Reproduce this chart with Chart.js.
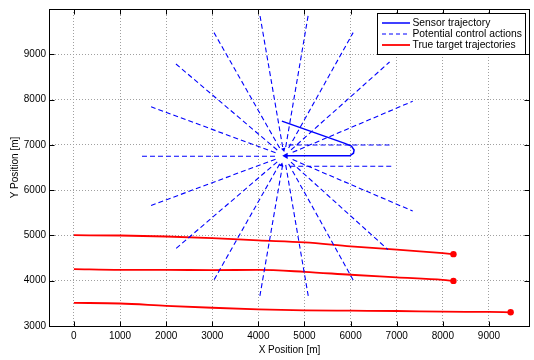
<!DOCTYPE html>
<html>
<head>
<meta charset="utf-8">
<script src="https://cdn.jsdelivr.net/npm/chart.js@4.4.1/dist/chart.umd.min.js"></script>
<style>
  html, body { margin: 0; padding: 0; background: #fff; }
  canvas { display: block; }
</style>
</head>
<body>
<canvas id="c" width="534" height="360" style="width:534px;height:360px"></canvas>
<script>
// ---- data ----
const xTicks = [0, 1000, 2000, 3000, 4000, 5000, 6000, 7000, 8000, 9000];
const yTicks = [3000, 4000, 5000, 6000, 7000, 8000, 9000];

const sensorX = [4510, 5875, 6018, 6076, 6062, 5983, 4596];
const sensorY = [7524, 7032, 6974, 6887, 6816, 6758, 6758];

const ctrlInnerX = [4527, 4593, 4462, 4656, 4409, 4708, 4373, 4743, 4360, 4373, 4743, 4409, 4707, 4463, 4656, 4526, 4593, 4654, 4691];
const ctrlInnerY = [6952, 6952, 6930, 6930, 6886, 6889, 6825, 6835, 6750, 6684, 6675, 6624, 6620, 6580, 6579, 6558, 6558, 6996, 6528];
const ctrlOuterX = [4029, 5085, 3038, 6055, 2213, 6845, 1674, 7347, 1465, 1674, 7347, 2213, 6809, 3038, 6055, 4029, 5085, 6917, 6917];
const ctrlOuterY = [9890, 9890, 9478, 9478, 8786, 8829, 7840, 7963, 6750, 5662, 5539, 4710, 4688, 4017, 4017, 3641, 3641, 6996, 6528];

const arrowX = [4546, 4503];
const arrowY = [6900, 6556];
const arrowRot = [45, 135];

const target1X = [0, 1000, 2000, 3000, 4000, 5000, 6000, 7000, 8000, 8230];
const target1Y = [5005, 4998, 4976, 4940, 4890, 4846, 4760, 4688, 4608, 4587];
const target2X = [0, 1000, 2000, 3000, 4000, 5000, 6000, 7000, 8000, 8230];
const target2Y = [4255, 4240, 4240, 4234, 4240, 4197, 4132, 4074, 4017, 3996];
const target3X = [0, 1000, 2000, 3000, 4000, 5000, 6000, 7000, 8000, 9000, 9470];
const target3Y = [3511, 3497, 3446, 3403, 3368, 3346, 3338, 3331, 3316, 3310, 3303];

const legendLabels = ['Sensor trajectory', 'Potential control actions', 'True target trajectories'];

// ---- styles ----
const BLUE = '#0000ff';
const RED = '#ff0000';
const FONT = 'Liberation Sans, Arial, Helvetica, sans-serif';

const zip = (xs, ys) => xs.map((x, i) => ({ x: x, y: ys[i] }));

const ctrlData = [];
for (let i = 0; i < ctrlOuterX.length; i++) {
  ctrlData.push({ x: ctrlInnerX[i], y: ctrlInnerY[i] });
  ctrlData.push({ x: ctrlOuterX[i], y: ctrlOuterY[i] });
  ctrlData.push({ x: ctrlOuterX[i], y: null });
}

const lastOnly = (n, r) => Array.from({ length: n }, (_, i) => (i === n - 1 ? r : 0));

const targetDs = (xs, ys, label) => ({
  label: label,
  data: zip(xs, ys),
  showLine: true,
  borderColor: RED,
  backgroundColor: RED,
  borderWidth: 1.8,
  cubicInterpolationMode: 'monotone',
  pointRadius: lastOnly(xs.length, 3.2),
  pointBorderWidth: 0,
  pointHoverRadius: 0
});

const datasets = [
  {
    label: legendLabels[1],
    data: ctrlData,
    showLine: true,
    spanGaps: false,
    borderColor: BLUE,
    borderWidth: 1.1,
    borderDash: [5, 3],
    pointRadius: 0,
    pointHoverRadius: 0
  },
  {
    label: 'arrows',
    data: zip(arrowX, arrowY),
    showLine: false,
    pointStyle: 'triangle',
    pointRotation: arrowRot,
    pointRadius: 2.6,
    backgroundColor: BLUE,
    borderColor: BLUE,
    borderWidth: 0
  },
  {
    label: legendLabels[0],
    data: zip(sensorX, sensorY),
    showLine: true,
    borderColor: BLUE,
    backgroundColor: BLUE,
    borderWidth: 1.5,
    tension: 0,
    pointStyle: 'triangle',
    pointRotation: -90,
    pointRadius: lastOnly(sensorX.length, 3.6),
    pointBorderWidth: 0,
    pointHoverRadius: 0
  },
  targetDs(target1X, target1Y, legendLabels[2]),
  targetDs(target2X, target2Y, 'target 2'),
  targetDs(target3X, target3Y, 'target 3')
];

// ---- frame with inward ticks on all sides ----
const framePlugin = {
  id: 'frame',
  afterDatasetsDraw(chart) {
    const { ctx, chartArea: a, scales } = chart;
    const L = Math.round(a.left) + 0.5, R = Math.round(a.right) - 0.5;
    const T = Math.round(a.top) + 0.5, B = Math.round(a.bottom) + 0.5;
    ctx.save();
    ctx.strokeStyle = '#000';
    ctx.lineWidth = 1;
    ctx.beginPath();
    xTicks.forEach(v => {
      const p = Math.round(scales.x.getPixelForValue(v)) + 0.5;
      ctx.moveTo(p, B); ctx.lineTo(p, B - 5);
      ctx.moveTo(p, T); ctx.lineTo(p, T + 5);
    });
    yTicks.forEach(v => {
      const p = Math.round(scales.y.getPixelForValue(v)) + 0.5;
      ctx.moveTo(L, p); ctx.lineTo(L + 5, p);
      ctx.moveTo(R, p); ctx.lineTo(R - 5, p);
    });
    ctx.stroke();
    ctx.strokeRect(L, T, R - L, B - T);
    ctx.restore();
  }
};

// ---- boxed legend inside the plot ----
const legendPlugin = {
  id: 'boxLegend',
  afterDraw(chart) {
    const { ctx } = chart;
    const x0 = 377.5, y0 = 13.5, w = 148, h = 41;
    ctx.save();
    ctx.fillStyle = '#fff';
    ctx.fillRect(x0, y0, w, h);
    ctx.strokeStyle = '#000';
    ctx.lineWidth = 1;
    ctx.strokeRect(x0, y0, w, h);
    const styles = [
      { c: BLUE, d: [], lw: 1.5 },
      { c: BLUE, d: [4, 3], lw: 1.1 },
      { c: RED, d: [], lw: 1.8 }
    ];
    ctx.font = '10.3px ' + FONT;
    ctx.textBaseline = 'middle';
    ctx.textAlign = 'left';
    legendLabels.forEach((t, i) => {
      const yy = 23 + i * 11;
      ctx.beginPath();
      ctx.setLineDash(styles[i].d);
      ctx.strokeStyle = styles[i].c;
      ctx.lineWidth = styles[i].lw;
      ctx.moveTo(382, yy);
      ctx.lineTo(410, yy);
      ctx.stroke();
      ctx.setLineDash([]);
      ctx.fillStyle = '#000';
      ctx.fillText(t, 412.5, yy + 0.5);
    });
    ctx.restore();
  }
};

const tickFont = { family: FONT, size: 10 };

new Chart(document.getElementById('c').getContext('2d'), {
  type: 'scatter',
  data: { datasets: datasets },
  plugins: [framePlugin, legendPlugin],
  options: {
    responsive: false,
    animation: false,
    devicePixelRatio: 1,
    events: [],
    layout: { padding: { left: 0, top: 3, right: 1, bottom: 0 } },
    plugins: { legend: { display: false }, tooltip: { enabled: false } },
    scales: {
      x: {
        type: 'linear',
        min: -540,
        max: 9890,
        afterBuildTicks: s => { s.ticks = xTicks.map(v => ({ value: v })); },
        afterFit: s => { s.height = 34; },
        grid: { color: '#a0a0a0', lineWidth: 1, drawTicks: false },
        border: { display: false, dash: [1, 2] },
        ticks: { font: tickFont, color: '#000', padding: 4, maxRotation: 0, autoSkip: false, callback: v => String(v) },
        title: { display: true, text: 'X Position [m]', font: tickFont, color: '#000', padding: { top: 0, bottom: 4 } }
      },
      y: {
        type: 'linear',
        min: 3000,
        max: 10000,
        afterBuildTicks: s => { s.ticks = yTicks.map(v => ({ value: v })); },
        afterFit: s => { s.width = 49; },
        grid: { color: '#a0a0a0', lineWidth: 1, drawTicks: false },
        border: { display: false, dash: [1, 2] },
        ticks: { font: tickFont, color: '#000', padding: 3, autoSkip: false, callback: v => String(v) },
        title: { display: true, text: 'Y Position [m]', font: tickFont, color: '#000', padding: { top: 9, bottom: 0 } }
      }
    }
  }
});
</script>
</body>
</html>
